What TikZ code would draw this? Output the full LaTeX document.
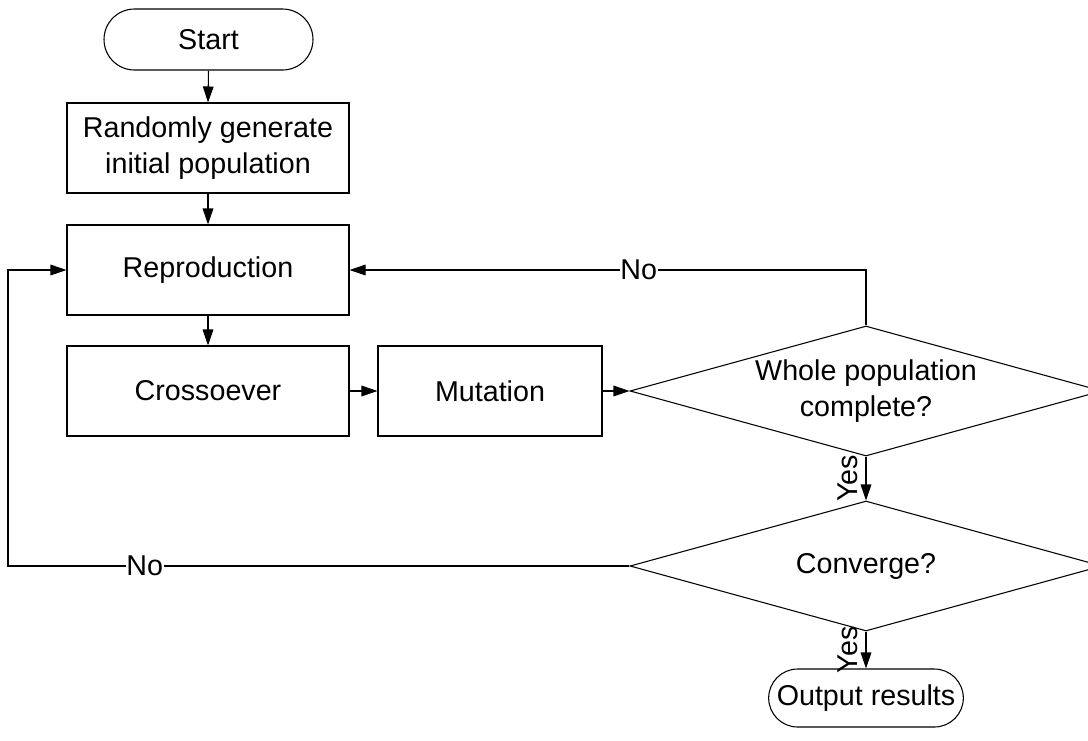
\documentclass[tikz,border=0pt]{standalone}
\usepackage{fontspec}
\setmainfont{Liberation Sans}
\usetikzlibrary{shapes.geometric,shapes.misc,arrows.meta}
\begin{document}
\begin{tikzpicture}[x=0.75pt,y=-0.75pt,
  every node/.style={font=\fontsize{21.5}{27}\selectfont, text=black},
  line/.style={draw=black, line width=0.8pt},
  arr/.style={line, -{Triangle[length=12pt,width=8pt]}},
  procbox/.style={line, rectangle, minimum width=211.5pt, minimum height=67.5pt, inner sep=0pt, align=center},
  termbox/.style={line, rounded rectangle, inner sep=0pt},
  decbox/.style={line, diamond, aspect=3.63, inner sep=0pt, minimum width=354pt, minimum height=97.5pt, align=center},
  yeslbl/.style={rotate=90, anchor=south, inner xsep=1pt, inner ysep=5.5pt},
  lbl/.style={fill=white, inner sep=0.5pt}]
\useasboundingbox (0,0) rectangle (1088,740);
\clip (0,0) rectangle (1088,740);

\node[termbox, minimum width=156.75pt, minimum height=45.75pt] (start) at (208.5,39.5) {Start};
\node[procbox] (init) at (208,148) {Randomly generate\\initial population};
\node[procbox] (repro) at (208,270) {Reproduction};
\node[procbox] (cross) at (208,391) {Crossoever};
\node[procbox, minimum width=168pt] (mut) at (490,391) {Mutation};
\node[decbox] (d1) at (866,391) {Whole population\\complete?};
\node[decbox] (d2) at (866,566) {Converge?};
\node[termbox, minimum width=146pt, minimum height=43.5pt] (out) at (866,698) {Output results};
\coordinate (lp) at (8,0);

\draw[arr] (start.south) -- (init.north);
\draw[arr] (init.south) -- (repro.north);
\draw[arr] (repro.south) -- (cross.north);
\draw[arr] (cross.east) -- (mut.west);
\draw[arr] (mut.east) -- (d1.west);
\draw[arr] (d1.south) -- node[yeslbl] (yes1) {Yes} (d2.north);
\draw[arr] (d2.south) -- node[yeslbl] (yes2) {Yes} (out.north);
\draw[arr] (d1.north) |- node[lbl, pos=0.72] (no1) {No} (repro.east);
\draw[arr] (d2.west) -- node[lbl, pos=0.78] (no2) {No} (d2.west -| lp) |- (repro.west);
\end{tikzpicture}
\end{document}
